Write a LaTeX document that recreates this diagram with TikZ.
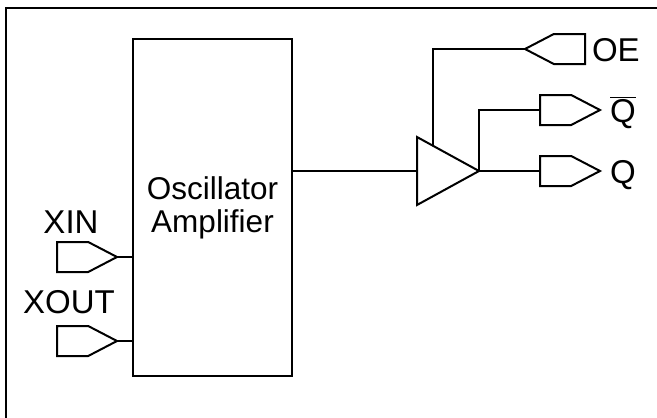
\documentclass[tikz,border=0pt]{standalone}
\usepackage{fontspec}
\setmainfont{Liberation Sans}
\usetikzlibrary{shapes.geometric,shapes.symbols,calc}

\begin{document}
\begin{tikzpicture}[x=1pt,y=-1pt,line width=2pt,
	conn/.style = {draw, signal, signal pointer angle=55, minimum width=60pt, minimum height=30pt, inner sep=0pt, outer sep=0pt},
	lbl/.style = {inner sep=0pt, font=\fontsize{33}{33}\selectfont}]
				\useasboundingbox (0,0) rectangle (657,418);
				\draw (6,440) -- (6,8) -- (680,8);
				\node[draw, rectangle, minimum width=159pt, minimum height=337pt, outer sep=0pt, align=center, font=\fontsize{31.5}{33}\selectfont] (osc) at (212.5,207.5) {Oscillator\\Amplifier};
				\node[draw, isosceles triangle, isosceles triangle stretches, minimum width=68pt, minimum height=62pt, inner sep=0pt, outer sep=0pt, anchor=west] (amp) at (417,171) {};
				\begin{scope}[every node/.style={conn}]
					\node[signal to=east, anchor=east] (xin) at (117,257) {};
					\node[signal to=east, anchor=east] (xout) at (117,341) {};
					\node[signal to=west, anchor=west] (oe) at (525,49) {};
					\node[signal to=east, anchor=east] (qb) at (600,110) {};
					\node[signal to=east, anchor=east] (q) at (600,171) {};
				\end{scope}
				\node[lbl, anchor=base] (xinl) at (71,233) {XIN};
				\node[lbl, anchor=base] (xoutl) at (69,313) {XOUT};
				\node[lbl, anchor=base west] (oel) at (591,61) {OE};
				\node[lbl, anchor=base west] (qbl) at (609,122) {$\overline{\mbox{Q}}$};
				\node[lbl, anchor=base west] (ql) at (609,183) {Q};
				\coordinate (en) at ($(amp.left corner)!0.258!(amp.apex)$);
				\draw (xin.east) -- (xin.east -| osc.west);
				\draw (xout.east) -- (xout.east -| osc.west);
				\draw (amp.west -| osc.east) -- (amp.west);
				\draw (en) |- (oe.west);
				\draw (amp.apex) |- (qb.west);
				\draw (amp.apex) -- (q.west);
			\end{tikzpicture}
\end{document}
